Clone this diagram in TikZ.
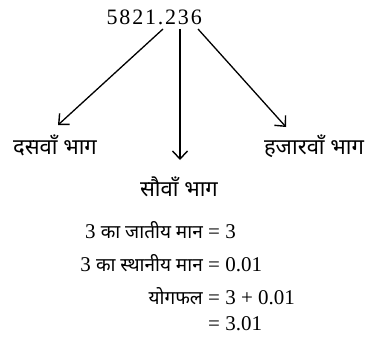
\documentclass[tikz,border=0pt]{standalone}
\usepackage{fontspec}
\setmainfont{Liberation Serif}
\newfontfamily\dev[Script=Devanagari]{Noto Sans}
\usetikzlibrary{arrows.meta}
\newcommand{\gp}{\kern1.8pt}
\newcommand{\dvs}{\dev\fontsize{19}{22}\selectfont}
\begin{document}
\begin{tikzpicture}[x=1pt,y=-1pt,
  num/.style={font=\fontsize{22}{24}\selectfont, inner sep=0pt},
  lab/.style={font=\dev\fontsize{22}{24}\selectfont, inner sep=0pt},
  eq/.style={font=\fontsize{21}{23}\selectfont, inner sep=0pt},
  arr/.style={-{Straight Barb[length=8pt,width=15pt,line width=1.4pt]}, line width=1.3pt}]
\useasboundingbox (0,0) rectangle (375,345);
\node[num, anchor=base east] (n) at (202,25) {5\gp8\gp2\gp1\gp.\gp2\gp3\gp6};
\coordinate (s1) at (163,29);
\coordinate (s2) at (180,29);
\coordinate (s3) at (198,29);
\coordinate (t1) at (58,125);
\coordinate (t2) at (180,160);
\coordinate (t3) at (286,127);
\draw[arr] (s1) -- (t1);
\draw[arr] (s2) -- (t2);
\draw[arr] (s3) -- (t3);
\node[lab, anchor=base] (l1) at (55,154) {दसवाँ भाग};
\node[lab, anchor=base] (l2) at (179,196) {सौवाँ भाग};
\node[lab, anchor=base] (l3) at (314,154) {हजारवाँ भाग};
\node[eq, anchor=base east] (a1) at (203,238) {3 {\dvs का जातीय मान}};
\node[eq, anchor=base west] (b1) at (208,238) {= 3};
\node[eq, anchor=base east] (a2) at (203,271) {3 {\dvs का स्थानीय मान}};
\node[eq, anchor=base west] (b2) at (208,271) {= 0.01};
\node[eq, anchor=base east] (a3) at (203,304) {{\dvs योगफल}};
\node[eq, anchor=base west] (b3) at (208,304) {= 3 + 0.01};
\node[eq, anchor=base west] (b4) at (208,330) {= 3.01};
\end{tikzpicture}
\end{document}
